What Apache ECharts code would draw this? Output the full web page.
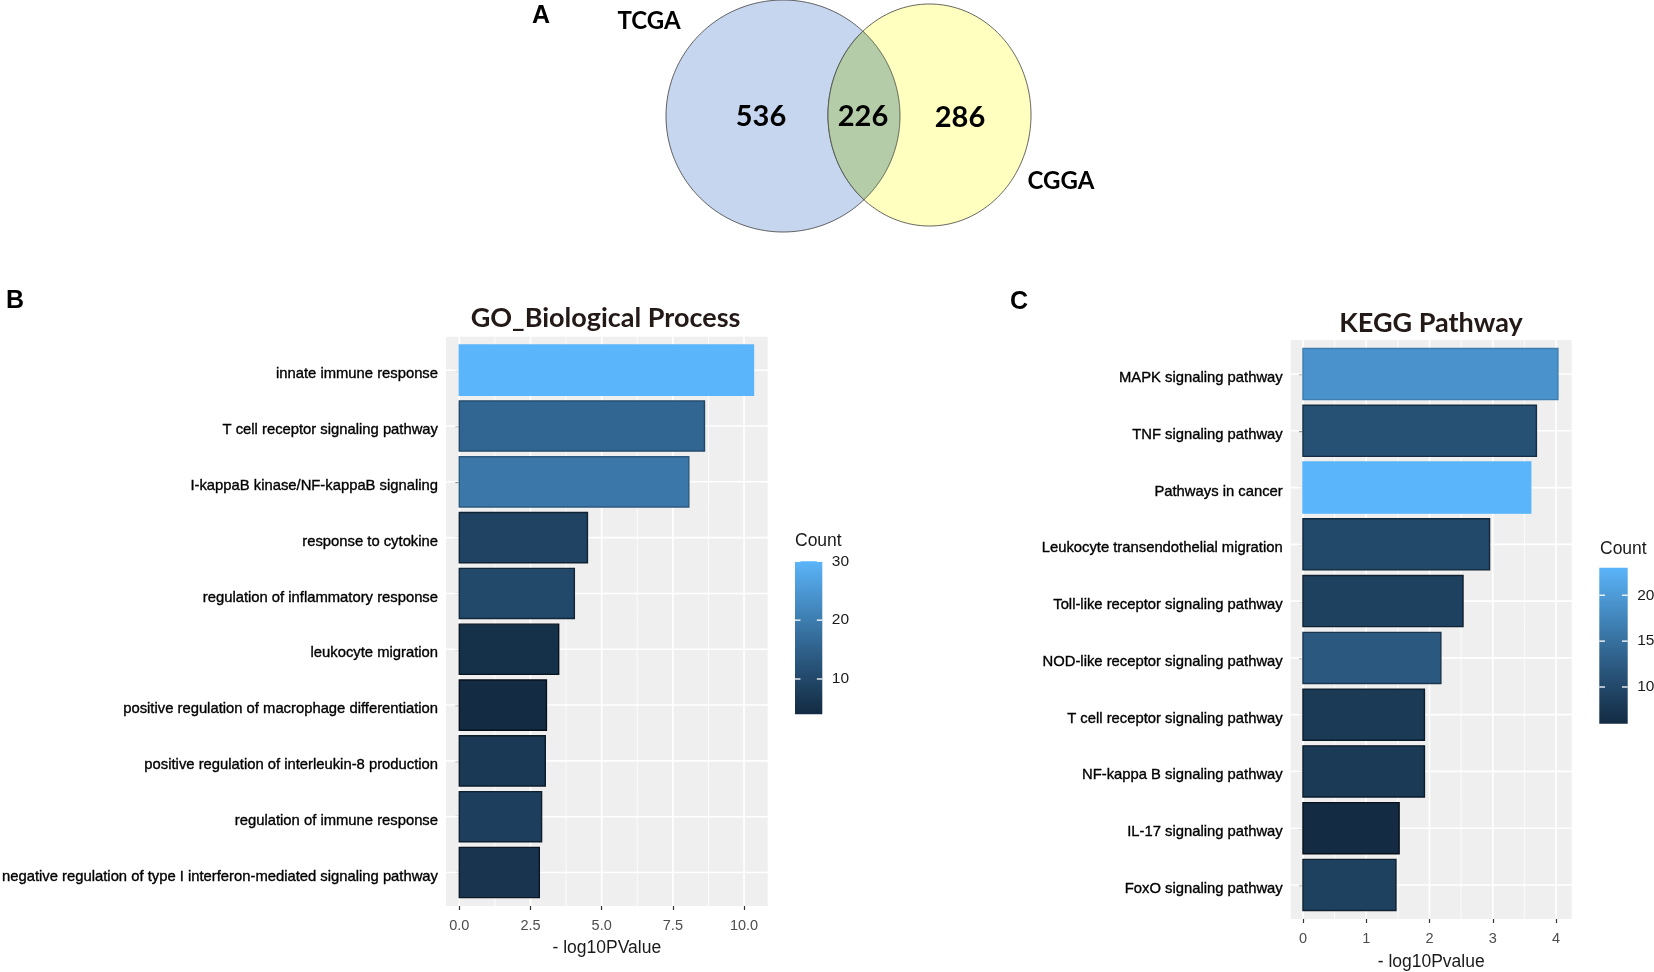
<!DOCTYPE html>
<html>
<head>
<meta charset="utf-8">
<script src="https://cdn.jsdelivr.net/npm/echarts@6/dist/echarts.min.js"></script>
<style>
html,body{margin:0;padding:0;background:#ffffff;}
#chart{width:1654px;height:972px;}
</style>
</head>
<body>
<div id="chart"></div>
<script>
// ---------------- DATA ----------------
// Panel A: Venn diagram
const vennSets = ['TCGA', 'CGGA'];
const vennRegions = ['TCGA only', 'TCGA and CGGA', 'CGGA only'];
const vennCounts = [536, 226, 286];

// Panel B: GO Biological Process
const goTerms = [
  'innate immune response',
  'T cell receptor signaling pathway',
  'I-kappaB kinase/NF-kappaB signaling',
  'response to cytokine',
  'regulation of inflammatory response',
  'leukocyte migration',
  'positive regulation of macrophage differentiation',
  'positive regulation of interleukin-8 production',
  'regulation of immune response',
  'negative regulation of type I interferon-mediated signaling pathway'
];
const goLogP = [10.33, 8.61, 8.06, 4.50, 4.04, 3.49, 3.06, 3.02, 2.89, 2.81];
const goCount = [30, 16, 19, 9, 10, 5, 4, 7, 8, 6];
const goTicks = [0, 2.5, 5, 7.5, 10];
const goMinorTicks = [1.25, 3.75, 6.25, 8.75];
const goCountTicks = [10, 20, 30];

// Panel C: KEGG Pathway
const keggTerms = [
  'MAPK signaling pathway',
  'TNF signaling pathway',
  'Pathways in cancer',
  'Leukocyte transendothelial migration',
  'Toll-like receptor signaling pathway',
  'NOD-like receptor signaling pathway',
  'T cell receptor signaling pathway',
  'NF-kappa B signaling pathway',
  'IL-17 signaling pathway',
  'FoxO signaling pathway'
];
const keggLogP = [4.03, 3.69, 3.60, 2.95, 2.53, 2.18, 1.92, 1.92, 1.52, 1.47];
const keggCount = [19, 11, 23, 10, 9, 12, 8, 8, 6, 9];
const keggTicks = [0, 1, 2, 3, 4];
const keggMinorTicks = [0.5, 1.5, 2.5, 3.5];
const keggCountTicks = [10, 15, 20];

// ---------------- LAYOUT / STYLE ----------------
const LAYOUT = {
  go:      {left: 446,    top: 336.7, width: 321.7, height: 569.3, xMin: -0.467, xMax: 10.83},
  kegg:    {left: 1290.7, top: 340,   width: 281,   height: 579,   xMin: -0.194, xMax: 4.248},
  goBar:   {left: 795,    top: 561.3, width: 27.3,  height: 153},
  keggBar: {left: 1599.3, top: 567.7, width: 28.4,  height: 156},
  venn: {
    ellipses: [{cx: 783, cy: 116, rx: 117, ry: 116}, {cx: 929.5, cy: 115, rx: 101.5, ry: 111}],
    countPos: [[761, 117], [863, 117], [960, 118]],
    setPos: [[649, 21], [1061, 181]],
    fills: ['#C6D6EE', '#B5CCA8', '#FFFFBF']
  }
};
const LABEL_FONT = '"Liberation Sans", Arial, sans-serif';
const PLAIN_FONT = '"Liberation Sans", Arial, sans-serif';
const PANEL_BG = '#EFEFEF';

// ggplot2-like Lab gradient from #132B43 to the light blue
function hexToRgb(h){h=h.replace('#','');return [0,2,4].map(i=>parseInt(h.substr(i,2),16));}
function toLin(c){c/=255;return c<=0.04045?c/12.92:Math.pow((c+0.055)/1.055,2.4);}
function toSrgb(c){c=c<=0.0031308?12.92*c:1.055*Math.pow(c,1/2.4)-0.055;return Math.round(Math.max(0,Math.min(1,c))*255);}
function rgbToLab(rgb){
  const [r,g,b]=rgb.map(toLin);
  const X=(0.4124*r+0.3576*g+0.1805*b)/0.95047, Y=0.2126*r+0.7152*g+0.0722*b, Z=(0.0193*r+0.1192*g+0.9505*b)/1.08883;
  const f=t=>t>0.008856?Math.cbrt(t):7.787*t+16/116;
  const fx=f(X),fy=f(Y),fz=f(Z);
  return [116*fy-16,500*(fx-fy),200*(fy-fz)];
}
function labToHex(lab){
  const fy=(lab[0]+16)/116,fx=fy+lab[1]/500,fz=fy-lab[2]/200;
  const fi=t=>t*t*t>0.008856?t*t*t:(t-16/116)/7.787;
  const X=fi(fx)*0.95047,Y=fi(fy),Z=fi(fz)*1.08883;
  const r=3.2406*X-1.5372*Y-0.4986*Z,g=-0.9689*X+1.8758*Y+0.0415*Z,b=0.0557*X-0.2040*Y+1.0570*Z;
  return '#'+[r,g,b].map(v=>toSrgb(v).toString(16).padStart(2,'0')).join('');
}
const LOW_LAB=rgbToLab(hexToRgb('#132B43')), HIGH_LAB=rgbToLab(hexToRgb('#5BB5FA'));
const PALETTE=[];
for(let i=0;i<=12;i++){const t=i/12;PALETTE.push(labToHex(LOW_LAB.map((v,k)=>v+(HIGH_LAB[k]-v)*t)));}

function parseColor(c){
  if(c[0]==='#') return hexToRgb(c);
  const m=c.match(/[\d.]+/g).map(Number);return m.slice(0,3);
}
function darker(c,amt){const rgb=parseColor(c).map(v=>Math.round(v*(1-amt)));return 'rgb('+rgb.join(',')+')';}

const goMin=Math.min(...goCount), goMax=Math.max(...goCount);
const keggMin=Math.min(...keggCount), keggMax=Math.max(...keggCount);

// ---------------- RENDERERS ----------------
function gridLineItem(params, api){
  const cs=params.coordSys;
  const kind=api.value(2);
  if(kind===2){
    const y=api.coord([0,api.value(1)])[1];
    return {type:'line',silent:true,shape:{x1:cs.x,y1:y,x2:cs.x+cs.width,y2:y},style:{stroke:'#FFFFFF',lineWidth:1.6}};
  }
  const x=api.coord([api.value(0),1])[0];
  return {type:'line',silent:true,shape:{x1:x,y1:cs.y,x2:x,y2:cs.y+cs.height},style:{stroke:'#FFFFFF',lineWidth:kind===0?1.6:0.8}};
}
function makeBarItem(cMin,cMax){
  return function(params, api){
    const v=api.value(0), c=api.value(1), n=api.value(2);
    const s=api.coord([0,c]), e=api.coord([v,c]);
    const h=api.size([0,1])[1]*0.9;
    const fill=api.visual('color');
    const t=(n-cMin)/(cMax-cMin);
    return {type:'rect',shape:{x:s[0],y:s[1]-h/2,width:e[0]-s[0],height:h},
      style:{fill:fill,stroke:darker(fill,0.6*(1-t)),lineWidth:1.4}};
  };
}
function makeColorbarItem(cMin,cMax,ticks){
  return function(params, api){
    const cs=params.coordSys;
    const top=api.coord([0.5,cMax])[1], bot=api.coord([0.5,cMin])[1];
    const stops=PALETTE.map((col,i)=>({offset:1-i/(PALETTE.length-1),color:col})).reverse();
    const children=[{type:'rect',shape:{x:cs.x,y:top,width:cs.width,height:bot-top},
      style:{fill:new echarts.graphic.LinearGradient(0,0,0,1,stops)}}];
    const tl=cs.width/5;
    ticks.forEach(t=>{
      const y=api.coord([0.5,t])[1];
      children.push({type:'line',shape:{x1:cs.x,y1:y,x2:cs.x+tl,y2:y},style:{stroke:'#FFFFFF',lineWidth:1.3}});
      children.push({type:'line',shape:{x1:cs.x+cs.width-tl,y1:y,x2:cs.x+cs.width,y2:y},style:{stroke:'#FFFFFF',lineWidth:1.3}});
    });
    return {type:'group',children:children};
  };
}
function ellipsePoints(e){
  const pts=[];
  for(let i=0;i<360;i++){const t=2*Math.PI*i/360;pts.push([e.cx+e.rx*Math.cos(t),e.cy-e.ry*Math.sin(t)]);}
  return pts;
}
function insideEllipse(e,p){const dx=(p[0]-e.cx)/e.rx,dy=(p[1]-e.cy)/e.ry;return dx*dx+dy*dy<=1;}
function lensPoints(){
  const a=LAYOUT.venn.ellipses[0], b=LAYOUT.venn.ellipses[1], N=1440;
  const arcA=[], arcB=[];
  for(let i=0;i<N;i++){const t=-Math.PI+2*Math.PI*i/N;const p=[a.cx+a.rx*Math.cos(t),a.cy-a.ry*Math.sin(t)];if(insideEllipse(b,p))arcA.push(p);}
  for(let i=0;i<N;i++){const t=2*Math.PI*i/N;const p=[b.cx+b.rx*Math.cos(t),b.cy-b.ry*Math.sin(t)];if(insideEllipse(a,p))arcB.push(p);}
  return arcA.concat(arcB);
}
function vennItem(params, api){
  const i=params.dataIndex, V=LAYOUT.venn;
  const children=[];
  const edge={stroke:'#3A3A3A',lineWidth:0.8};
  if(i===0){
    children.push({type:'polygon',z2:1,shape:{points:ellipsePoints(V.ellipses[0])},style:Object.assign({fill:V.fills[0]},edge)});
  } else if(i===2){
    children.push({type:'polygon',z2:2,shape:{points:ellipsePoints(V.ellipses[1])},style:Object.assign({fill:V.fills[2]},edge)});
  } else {
    children.push({type:'polygon',z2:3,shape:{points:lensPoints()},style:Object.assign({fill:V.fills[1]},edge)});
  }
  const p=V.countPos[i];
  children.push({type:'text',z2:10,x:p[0],y:p[1],style:{text:String(api.value(0)),font:'bold 29px Lato, "Open Sans", sans-serif',fill:'#000000',align:'center',verticalAlign:'middle',textAlign:'center',textVerticalAlign:'middle'}});
  if(i!==1){
    const si=i===0?0:1, sp=V.setPos[si];
    children.push({type:'text',z2:10,x:sp[0],y:sp[1],style:{text:vennSets[si],font:'bold 24px Lato, "Open Sans", sans-serif',fill:'#000000',align:'center',verticalAlign:'middle',textAlign:'center',textVerticalAlign:'middle'}});
  }
  return {type:'group',children:children};
}

function gridLineData(major,minor,n){
  const d=[];
  minor.forEach(v=>d.push([v,1,1]));
  major.forEach(v=>d.push([v,1,0]));
  for(let i=1;i<=n;i++) d.push([0,i,2]);
  return d;
}
const catIdx=n=>Array.from({length:n},(_,i)=>i+1);

function panelGrid(L){return {left:L.left,top:L.top,width:L.width,height:L.height,show:true,backgroundColor:PANEL_BG,borderWidth:0,outerBoundsMode:'none',containLabel:false};}
function valueXAxis(gi,L,ticks,fmt,name,gap){
  return {type:'value',gridIndex:gi,min:L.xMin,max:L.xMax,
    axisLine:{show:false},splitLine:{show:false},
    axisTick:{show:true,length:4,customValues:ticks,lineStyle:{color:'#333333',width:1.2}},
    axisLabel:{customValues:ticks,formatter:fmt,color:'#4D4D4D',fontSize:14.5,fontFamily:PLAIN_FONT,margin:12},
    name:name,nameLocation:'middle',nameGap:gap,
    nameTextStyle:{color:'#1A1A1A',fontSize:17.5,fontFamily:PLAIN_FONT}};
}
function catYAxis(gi,terms){
  const idx=catIdx(terms.length);
  return {type:'value',gridIndex:gi,min:0.4,max:terms.length+0.6,inverse:true,
    axisLine:{show:false},splitLine:{show:false},
    axisTick:{show:true,length:4,customValues:idx,lineStyle:{color:'#333333',width:1.2}},
    axisLabel:{customValues:idx,formatter:v=>terms[Math.round(v)-1]||'',color:'#000000',fontSize:14.8,fontFamily:LABEL_FONT,
      margin:8,verticalAlign:'top',lineHeight:8,textBorderColor:'#000000',textBorderWidth:0.35}};
}
function barGrid(L){return {left:L.left,top:L.top,width:L.width,height:L.height,show:false,outerBoundsMode:'none',containLabel:false};}

const chart=echarts.init(document.getElementById('chart'),null,{renderer:'canvas'});
const option={
  backgroundColor:'#FFFFFF',
  animation:false,
  grid:[panelGrid(LAYOUT.go),panelGrid(LAYOUT.kegg),barGrid(LAYOUT.goBar),barGrid(LAYOUT.keggBar)],
  xAxis:[
    valueXAxis(0,LAYOUT.go,goTicks,v=>v.toFixed(1),'- log10PValue',33),
    valueXAxis(1,LAYOUT.kegg,keggTicks,v=>String(v),'- log10Pvalue',34),
    {type:'value',gridIndex:2,min:0,max:1,show:false},
    {type:'value',gridIndex:3,min:0,max:1,show:false}
  ],
  yAxis:[
    catYAxis(0,goTerms),
    catYAxis(1,keggTerms),
    {type:'value',gridIndex:2,min:goMin,max:goMax,position:'right',axisLine:{show:false},axisTick:{show:false},splitLine:{show:false},
      axisLabel:{customValues:goCountTicks,color:'#1A1A1A',fontSize:15.5,fontFamily:PLAIN_FONT,margin:9.5}},
    {type:'value',gridIndex:3,min:keggMin,max:keggMax,position:'right',axisLine:{show:false},axisTick:{show:false},splitLine:{show:false},
      axisLabel:{customValues:keggCountTicks,color:'#1A1A1A',fontSize:15.5,fontFamily:PLAIN_FONT,margin:9.5}}
  ],
  visualMap:[
    {type:'continuous',show:false,seriesIndex:1,dimension:2,min:goMin,max:goMax,inRange:{color:PALETTE}},
    {type:'continuous',show:false,seriesIndex:3,dimension:2,min:keggMin,max:keggMax,inRange:{color:PALETTE}}
  ],
  series:[
    {type:'custom',name:'GO grid',xAxisIndex:0,yAxisIndex:0,z:1,silent:true,renderItem:gridLineItem,
      data:gridLineData(goTicks,goMinorTicks,goTerms.length),encode:{x:0,y:1}},
    {type:'custom',name:'GO_Biological Process',xAxisIndex:0,yAxisIndex:0,z:3,renderItem:makeBarItem(goMin,goMax),
      data:goTerms.map((t,i)=>({name:t,value:[goLogP[i],i+1,goCount[i]]})),encode:{x:0,y:1}},
    {type:'custom',name:'KEGG grid',xAxisIndex:1,yAxisIndex:1,z:1,silent:true,renderItem:gridLineItem,
      data:gridLineData(keggTicks,keggMinorTicks,keggTerms.length),encode:{x:0,y:1}},
    {type:'custom',name:'KEGG Pathway',xAxisIndex:1,yAxisIndex:1,z:3,renderItem:makeBarItem(keggMin,keggMax),
      data:keggTerms.map((t,i)=>({name:t,value:[keggLogP[i],i+1,keggCount[i]]})),encode:{x:0,y:1}},
    {type:'custom',name:'GO Count',xAxisIndex:2,yAxisIndex:2,silent:true,renderItem:makeColorbarItem(goMin,goMax,goCountTicks),
      data:[[0.5,goMin]],encode:{x:0,y:1}},
    {type:'custom',name:'KEGG Count',xAxisIndex:3,yAxisIndex:3,silent:true,renderItem:makeColorbarItem(keggMin,keggMax,keggCountTicks),
      data:[[0.5,keggMin]],encode:{x:0,y:1}},
    {type:'custom',name:'Venn',coordinateSystem:'none',silent:true,renderItem:vennItem,
      data:vennCounts.map((v,i)=>({name:vennRegions[i],value:[v]}))}
  ],
  graphic:[
    {type:'text',x:541,y:16,style:{text:'A',font:'bold 25px "Liberation Sans", Arial, sans-serif',fill:'#000',textAlign:'center',textVerticalAlign:'middle'}},
    {type:'text',x:15,y:301,style:{text:'B',font:'bold 25px "Liberation Sans", Arial, sans-serif',fill:'#000',textAlign:'center',textVerticalAlign:'middle'}},
    {type:'text',x:1019,y:302,style:{text:'C',font:'bold 25px "Liberation Sans", Arial, sans-serif',fill:'#000',textAlign:'center',textVerticalAlign:'middle'}},
    {type:'text',x:605.5,y:318,style:{text:'GO_Biological Process',font:'bold 27px Lato, "Open Sans", sans-serif',fill:'#231916',textAlign:'center',textVerticalAlign:'middle'}},
    {type:'text',x:1431,y:323,style:{text:'KEGG Pathway',font:'bold 27px Lato, "Open Sans", sans-serif',fill:'#231916',textAlign:'center',textVerticalAlign:'middle'}},
    {type:'text',x:795,y:541,style:{text:'Count',font:'17.5px "Liberation Sans", Arial, sans-serif',fill:'#1A1A1A',textAlign:'left',textVerticalAlign:'middle'}},
    {type:'text',x:1600,y:549,style:{text:'Count',font:'17.5px "Liberation Sans", Arial, sans-serif',fill:'#1A1A1A',textAlign:'left',textVerticalAlign:'middle'}}
  ]
};
chart.setOption(option);
</script>
</body>
</html>
